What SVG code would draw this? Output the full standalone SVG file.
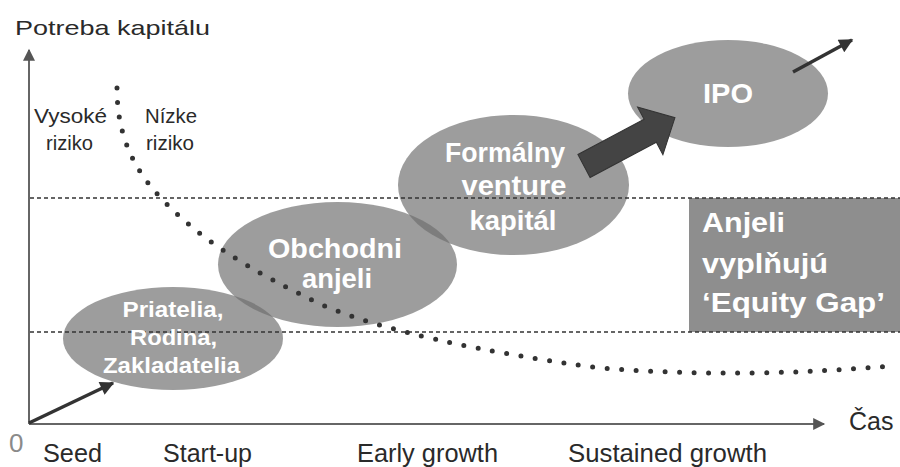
<svg xmlns="http://www.w3.org/2000/svg" width="900" height="467" viewBox="0 0 900 467">
<style>
.lbl{font-family:"Liberation Sans",Arial,sans-serif;fill:#2a2a2a}
.wt{font-family:"Liberation Sans",Arial,sans-serif;font-weight:bold;fill:#ffffff}
.ell{fill:#6e6e6e;fill-opacity:0.68}
.dash{stroke:#333;stroke-width:1.3;stroke-dasharray:4 3;fill:none}
.arr{stroke:#333;stroke-width:3.5;fill:none}
</style>
<defs>
<marker id="ah" viewBox="0 0 10 10" refX="9" refY="5" markerWidth="4.5" markerHeight="4" markerUnits="strokeWidth" orient="auto"><path d="M0,0 L10,5 L0,10 z" fill="#333"/></marker>
<marker id="axh" viewBox="0 0 10 10" refX="9" refY="5" markerWidth="7" markerHeight="6" markerUnits="strokeWidth" orient="auto"><path d="M0,0 L10,5 L0,10 z" fill="#555"/></marker>
</defs>
<rect width="900" height="467" fill="#fff"/>
<g id="axes">
<line x1="29" y1="424" x2="29" y2="50" stroke="#666" stroke-width="2" marker-end="url(#axh)"/>
<line x1="29" y1="424" x2="824" y2="424" stroke="#666" stroke-width="2" marker-end="url(#axh)"/>
<text class="lbl" x="15" y="35" font-size="21" textLength="195" lengthAdjust="spacingAndGlyphs">Potreba kapitálu</text>
<text class="lbl" x="849" y="430" font-size="25">Čas</text>
<text x="9" y="452" font-size="26" font-family="Liberation Sans,Arial,sans-serif" fill="#8a8a8a">0</text>
<text class="lbl" x="43" y="462" font-size="25" textLength="59" lengthAdjust="spacingAndGlyphs">Seed</text>
<text class="lbl" x="163" y="462" font-size="25" textLength="89" lengthAdjust="spacingAndGlyphs">Start-up</text>
<text class="lbl" x="357" y="462" font-size="25" textLength="141" lengthAdjust="spacingAndGlyphs">Early growth</text>
<text class="lbl" x="568" y="462" font-size="25.5" textLength="199" lengthAdjust="spacingAndGlyphs">Sustained growth</text>
<text class="lbl" x="34" y="123" font-size="20" textLength="73" lengthAdjust="spacingAndGlyphs">Vysoké</text>
<text class="lbl" x="46" y="150" font-size="20" textLength="47" lengthAdjust="spacingAndGlyphs">riziko</text>
<text class="lbl" x="145" y="123" font-size="20" textLength="52" lengthAdjust="spacingAndGlyphs">Nízke</text>
<text class="lbl" x="146" y="150" font-size="20" textLength="48" lengthAdjust="spacingAndGlyphs">riziko</text>
</g>
<g id="equity-gap">
<rect x="689" y="198" width="211" height="134" fill="#8e8e8e"/>
<text class="wt" x="702" y="232" font-size="28" textLength="83" lengthAdjust="spacingAndGlyphs">Anjeli</text>
<text class="wt" x="702" y="273" font-size="28" textLength="126" lengthAdjust="spacingAndGlyphs">vyplňujú</text>
<text class="wt" x="702" y="312" font-size="28" textLength="183" lengthAdjust="spacingAndGlyphs">‘Equity Gap’</text>
</g>
<g id="priatelia">
<ellipse class="ell" cx="173" cy="338.5" rx="110" ry="51.5"/>
</g>
<g id="obchodni">
<ellipse class="ell" cx="337.5" cy="264.5" rx="119.5" ry="62.5"/>
</g>
<g id="formalny">
<ellipse class="ell" cx="513.5" cy="185" rx="115.5" ry="70"/>
</g>
<g id="ipo">
<ellipse class="ell" cx="728" cy="93.5" rx="100" ry="53.5"/>
</g>
<g id="connectors">
<line class="dash" x1="30" y1="198" x2="900" y2="198"/>
<line class="dash" x1="30" y1="332" x2="900" y2="332"/>
<path d="M117,88 C117,130 130,165 160,197 C200,240 250,270 320,304 C380,330 480,352 600,368 C700,376 800,374 890,366" fill="none" stroke="#333" stroke-width="5" stroke-linecap="round" stroke-dasharray="0 14.5"/>
<line class="arr" x1="29" y1="423" x2="113" y2="383" marker-end="url(#ah)"/>
<line class="arr" x1="793" y1="72" x2="852" y2="40" marker-end="url(#ah)"/>
<polygon transform="translate(584,166) rotate(-28)" points="0,-13 75,-13 75,-27 103,0 75,27 75,13 0,13" fill="#444" stroke="#333" stroke-width="1"/>
</g>
<g id="labels">
<text class="wt" text-anchor="middle" x="173" y="317" font-size="22" textLength="101" lengthAdjust="spacingAndGlyphs">Priatelia,</text>
<text class="wt" text-anchor="middle" x="173.5" y="345" font-size="22" textLength="87" lengthAdjust="spacingAndGlyphs">Rodina,</text>
<text class="wt" text-anchor="middle" x="171.5" y="373" font-size="22" textLength="137" lengthAdjust="spacingAndGlyphs">Zakladatelia</text>
<text class="wt" text-anchor="middle" x="335" y="258" font-size="28" textLength="134" lengthAdjust="spacingAndGlyphs">Obchodni</text>
<text class="wt" text-anchor="middle" x="337" y="288" font-size="28" textLength="70" lengthAdjust="spacingAndGlyphs">anjeli</text>
<text class="wt" text-anchor="middle" x="505" y="162" font-size="27" textLength="120" lengthAdjust="spacingAndGlyphs">Formálny</text>
<text class="wt" text-anchor="middle" x="514" y="195" font-size="27" textLength="105" lengthAdjust="spacingAndGlyphs">venture</text>
<text class="wt" text-anchor="middle" x="513" y="230" font-size="27" textLength="87" lengthAdjust="spacingAndGlyphs">kapitál</text>
<text class="wt" text-anchor="middle" x="728" y="103" font-size="28" textLength="50" lengthAdjust="spacingAndGlyphs">IPO</text>
</g>
</svg>
